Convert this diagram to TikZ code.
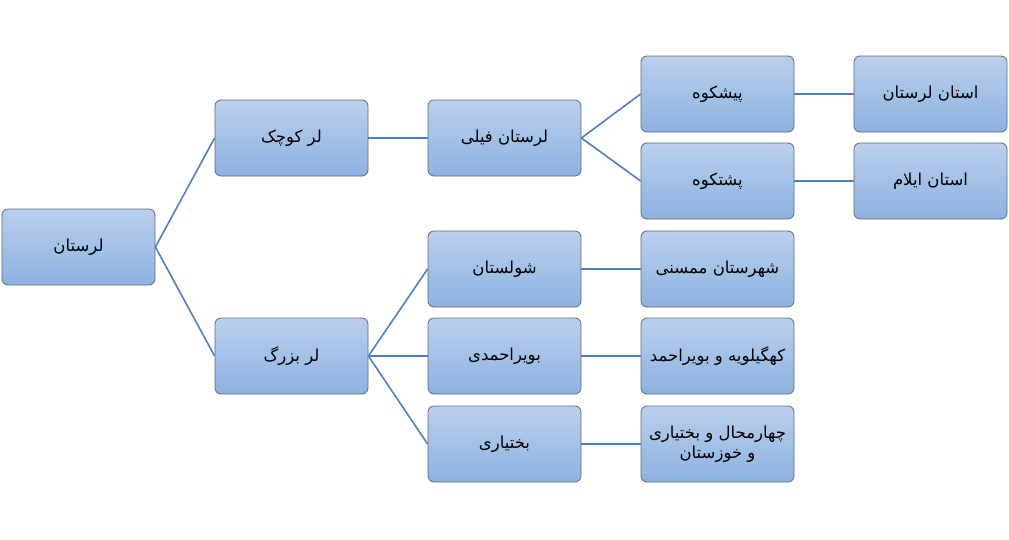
\documentclass[tikz,border=0pt]{standalone}
\usepackage{fontspec}
\newfontfamily\fa[Script=Arabic]{DejaVu Sans}
\TeXXeTstate=1
\newcommand{\RT}[1]{\beginR #1\endR}
\definecolor{boxtop}{RGB}{186,207,236}
\definecolor{boxbot}{RGB}{141,178,225}
\definecolor{boxline}{RGB}{95,105,125}
\definecolor{conn}{RGB}{79,129,189}
\tikzset{
  box/.style={rectangle, rounded corners=6pt, draw=boxline, line width=0.8pt,
    top color=boxtop, bottom color=boxbot, minimum width=153pt, minimum height=76pt,
    inner sep=0pt, align=center, font=\fa\fontsize{16.5}{20}\selectfont},
  link/.style={draw=conn, line width=1.6pt}
}
\begin{document}
\begin{tikzpicture}[x=1pt,y=-1pt]
\useasboundingbox (0,0) rectangle (1009,539);
\fill[white] (0,0) rectangle (1009,539);
\node[box] (lor) at (78.5,247) {\RT{لرستان}};
\node[box] (kuchak) at (291.5,138) {\RT{لر کوچک}};
\node[box] (bozorg) at (291.5,356) {\RT{لر بزرگ}};
\node[box] (feyli) at (504.5,138) {\RT{لرستان فیلی}};
\node[box] (pish) at (717.5,94) {\RT{پیشکوه}};
\node[box] (posht) at (717.5,181) {\RT{پشتکوه}};
\node[box] (olor) at (930.5,94) {\RT{استان لرستان}};
\node[box] (oilam) at (930.5,181) {\RT{استان ایلام}};
\node[box] (shul) at (504.5,269) {\RT{شولستان}};
\node[box] (boyer) at (504.5,356) {\RT{بویراحمدی}};
\node[box] (bakh) at (504.5,444) {\RT{بختیاری}};
\node[box] (mamas) at (717.5,269) {\RT{شهرستان ممسنی}};
\node[box] (kohg) at (717.5,356) {\RT{کهگیلویه و بویراحمد}};
\node[box] (chah) at (717.5,444) {\RT{چهارمحال و بختیاری}\\\RT{و خوزستان}};
\draw[link] (lor.east) -- (kuchak.west);
\draw[link] (lor.east) -- (bozorg.west);
\draw[link] (kuchak.east) -- (feyli.west);
\draw[link] (feyli.east) -- (pish.west);
\draw[link] (feyli.east) -- (posht.west);
\draw[link] (pish.east) -- (olor.west);
\draw[link] (posht.east) -- (oilam.west);
\draw[link] (bozorg.east) -- (shul.west);
\draw[link] (bozorg.east) -- (boyer.west);
\draw[link] (bozorg.east) -- (bakh.west);
\draw[link] (shul.east) -- (mamas.west);
\draw[link] (boyer.east) -- (kohg.west);
\draw[link] (bakh.east) -- (chah.west);
\end{tikzpicture}
\end{document}
